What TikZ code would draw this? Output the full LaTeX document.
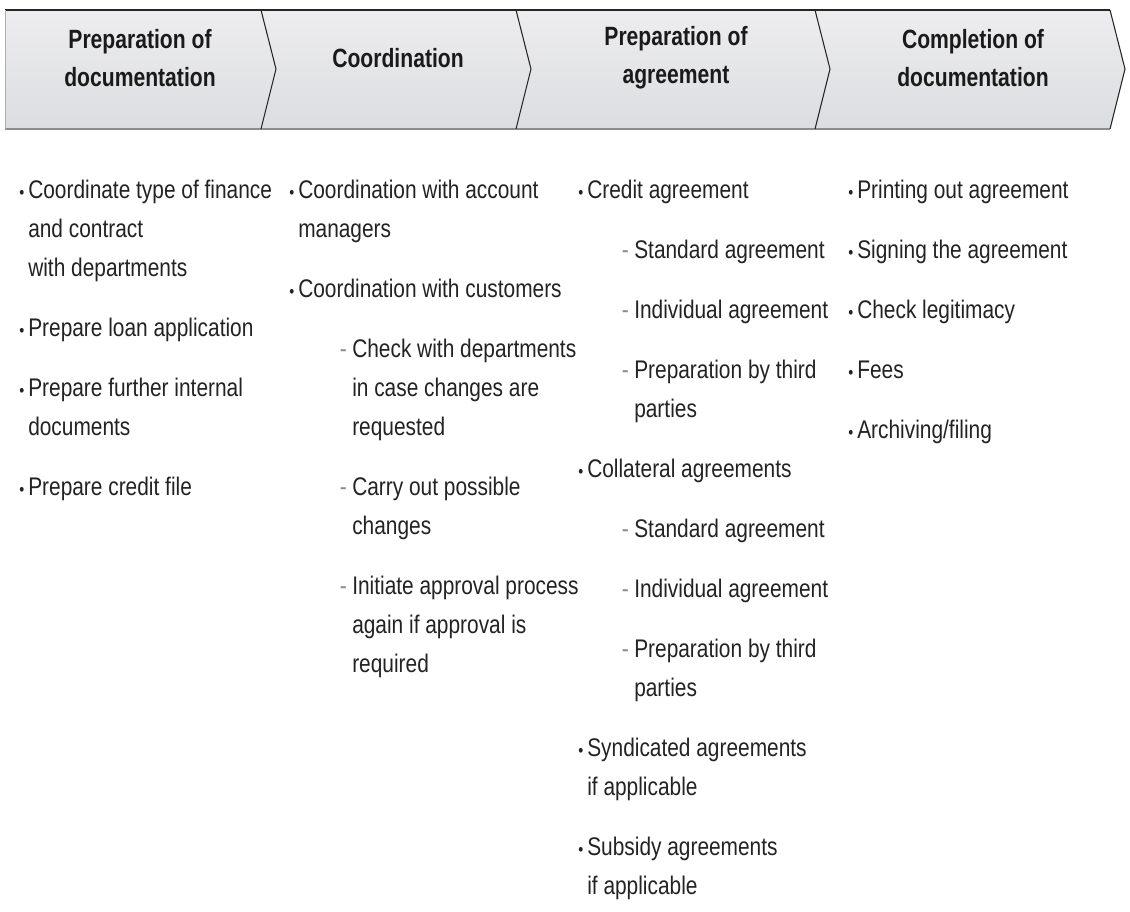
\documentclass[tikz,border=0pt]{standalone}
\usepackage{fontspec}
\setmainfont{Liberation Sans}[FakeStretch=0.82]
\newfontfamily\headfam{Liberation Sans}[FakeStretch=0.80]
\definecolor{txt}{HTML}{232323}
\definecolor{headtxt}{HTML}{1A1A1A}
\definecolor{dashgray}{HTML}{8A8A8A}
\definecolor{bartop}{HTML}{EDEDEF}
\definecolor{barbot}{HTML}{DCDDE0}
\definecolor{edgedark}{HTML}{262626}
\definecolor{edgegray}{HTML}{8C8D90}
\newcommand\bodyfont{\fontsize{19.1pt}{29.25pt}\selectfont}
\newcommand\hfont{\headfam\bfseries\fontsize{19.8pt}{28.5pt}\selectfont}
\newcommand\itm{\makebox[0pt][r]{\fontsize{13pt}{13pt}\selectfont\textbullet\hspace{3pt}}}
\newcommand\dsh{\makebox[0pt][r]{\textcolor{dashgray}{-}\hspace{4pt}}}
\tikzset{
  ln/.style={anchor=base west, inner sep=0pt, font=\bodyfont, text=txt},
  headlabel/.style={anchor=center, align=center, inner sep=0pt, font=\hfont, text=headtxt},
  sep/.style={draw=edgedark, line width=0.8pt},
}
\begin{document}
\begin{tikzpicture}[x=0.75pt,y=-0.75pt]
\useasboundingbox[fill=white] (0,0) rectangle (1130,911);
% header bar
\path[top color=bartop, bottom color=barbot] (5,10) -- (1110,10) -- (1125,69) -- (1110,129) -- (5,129) -- cycle;
\draw[edgedark, line width=2.2pt] (5,10) -- (1110,10);
\draw[edgegray, line width=2.2pt] (5,129) -- (1110,129);
\draw[edgegray!70, line width=0.6pt] (5,10) -- (5,129);
\draw[sep] (1110,10) -- (1125,69) -- (1110,129);
\draw[sep] (261,10) -- (276,69) -- (261,129);
\draw[sep] (516,10) -- (531,69) -- (516,129);
\draw[sep] (815,10) -- (830,69) -- (815,129);
% header labels
\node[headlabel] (h1) at (140,58) {Preparation of\\documentation};
\node[headlabel] (h2) at (398,58) {Coordination};
\node[headlabel] (h3) at (676,58) {Preparation of\\agreement};
\node[headlabel] (h4) at (973,58) {Completion of\\documentation};
% column 1
\node[ln] (a1) at (28,198) {\itm Coordinate type of finance};
\node[ln] (a2) at (28,237) {and contract};
\node[ln] (a3) at (28,276) {with departments};
\node[ln] (a4) at (28,336) {\itm Prepare loan application};
\node[ln] (a5) at (28,396) {\itm Prepare further internal};
\node[ln] (a6) at (28,435) {documents};
\node[ln] (a7) at (28,495) {\itm Prepare credit file};
% column 2
\node[ln] (b1) at (298,198) {\itm Coordination with account};
\node[ln] (b2) at (298,237) {managers};
\node[ln] (b3) at (298,297) {\itm Coordination with customers};
\node[ln] (b4) at (352,357) {\dsh Check with departments};
\node[ln] (b5) at (352,396) {in case changes are};
\node[ln] (b6) at (352,435) {requested};
\node[ln] (b7) at (352,495) {\dsh Carry out possible};
\node[ln] (b8) at (352,534) {changes};
\node[ln] (b9) at (352,594) {\dsh Initiate approval process};
\node[ln] (b10) at (352,633) {again if approval is};
\node[ln] (b11) at (352,672) {required};
% column 3
\node[ln] (c1) at (587,198) {\itm Credit agreement};
\node[ln] (c2) at (634,258) {\dsh Standard agreement};
\node[ln] (c3) at (634,318) {\dsh Individual agreement};
\node[ln] (c4) at (634,378) {\dsh Preparation by third};
\node[ln] (c5) at (634,417) {parties};
\node[ln] (c6) at (587,477) {\itm Collateral agreements};
\node[ln] (c7) at (634,537) {\dsh Standard agreement};
\node[ln] (c8) at (634,597) {\dsh Individual agreement};
\node[ln] (c9) at (634,657) {\dsh Preparation by third};
\node[ln] (c10) at (634,696) {parties};
\node[ln] (c11) at (587,756) {\itm Syndicated agreements};
\node[ln] (c12) at (587,795) {if applicable};
\node[ln] (c13) at (587,855) {\itm Subsidy agreements};
\node[ln] (c14) at (587,894) {if applicable};
% column 4
\node[ln] (d1) at (857,198) {\itm Printing out agreement};
\node[ln] (d2) at (857,258) {\itm Signing the agreement};
\node[ln] (d3) at (857,318) {\itm Check legitimacy};
\node[ln] (d4) at (857,378) {\itm Fees};
\node[ln] (d5) at (857,438) {\itm Archiving/filing};
\end{tikzpicture}
\end{document}
